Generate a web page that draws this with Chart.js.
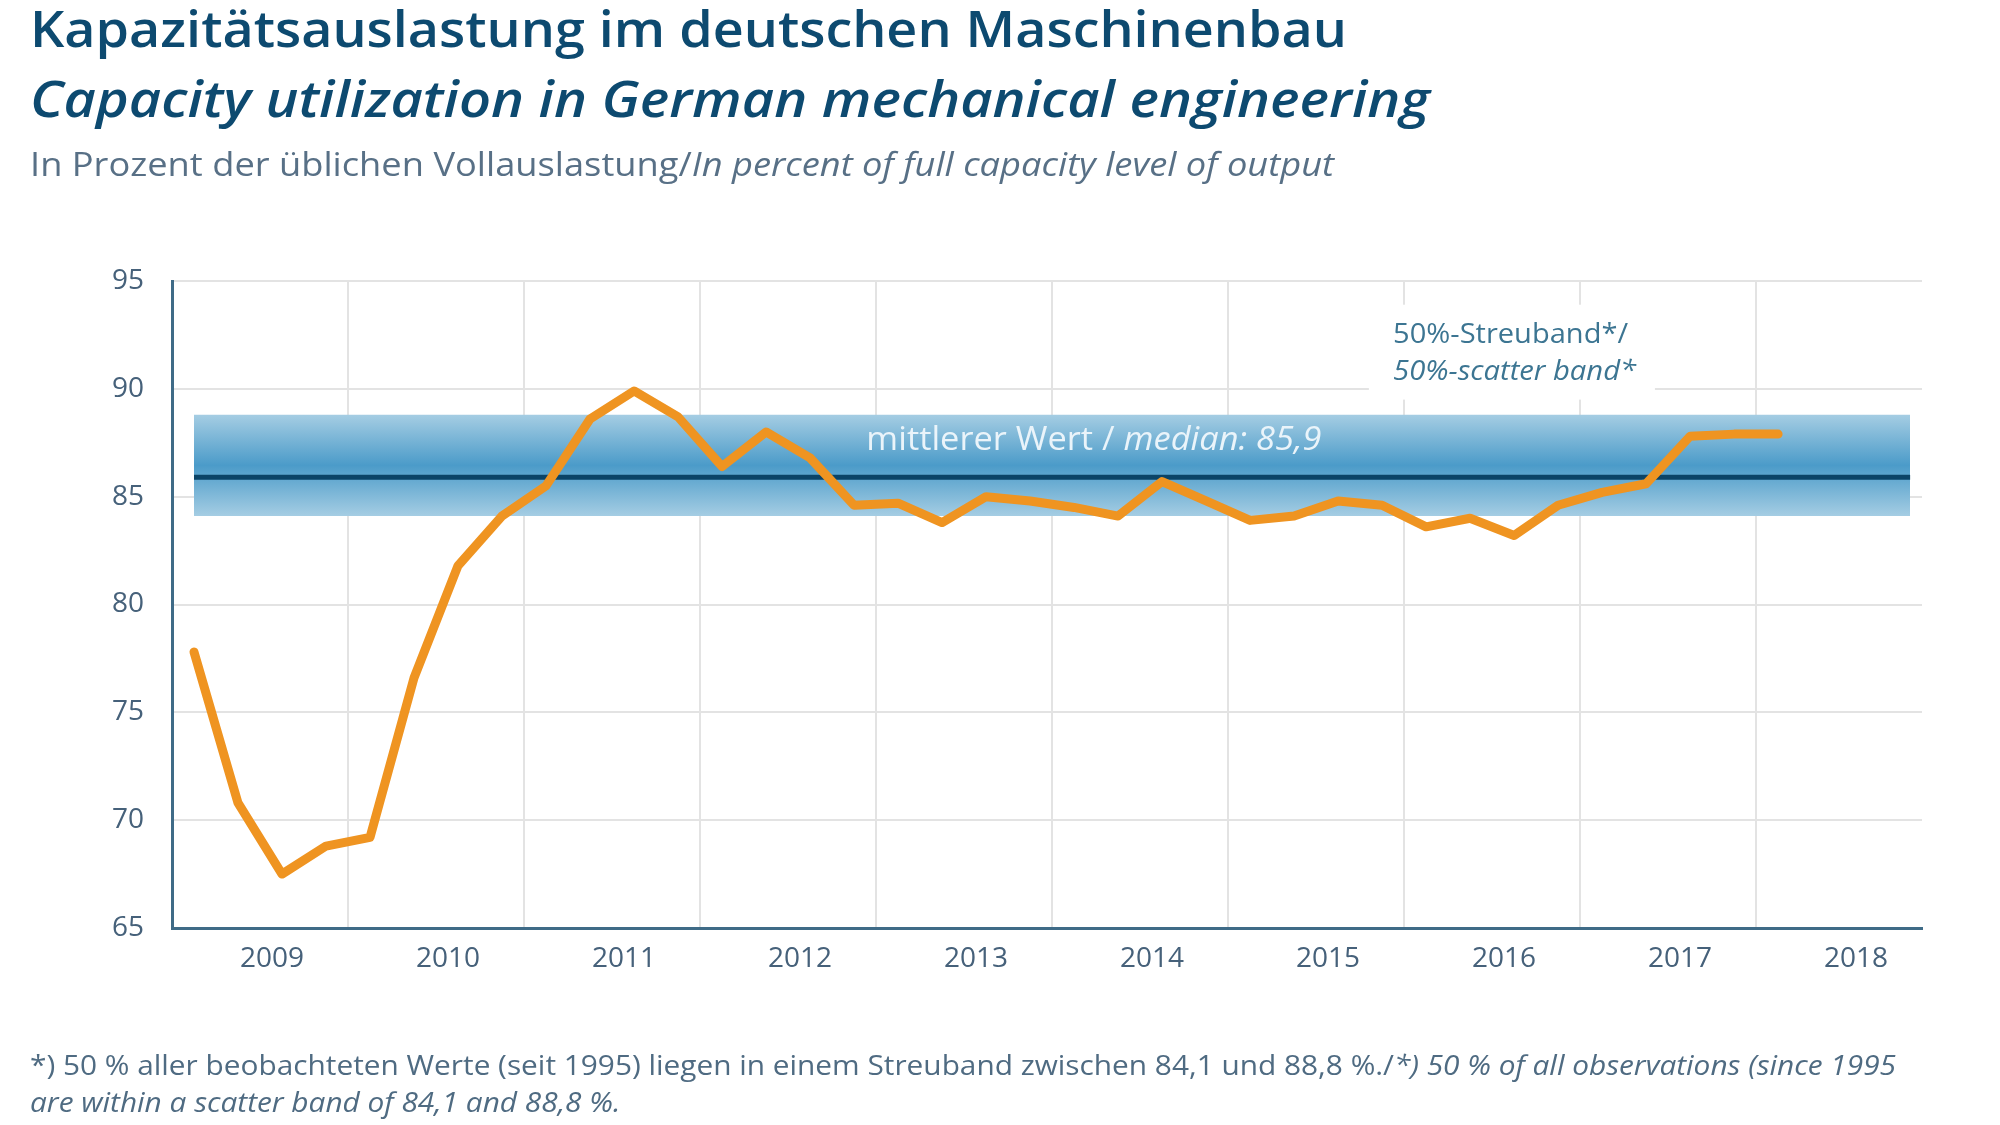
<!DOCTYPE html>
<html>
<head>
<meta charset="utf-8">
<script src="https://cdn.jsdelivr.net/npm/chart.js@4.4.1/dist/chart.umd.min.js"></script>
<style>
  body { margin: 0; background: #fff; }
  #wrap { position: relative; width: 2000px; height: 1125px; overflow: hidden; }
  #chart { position: absolute; left: 0; top: 0; }
  .t { position: absolute; left: 30px; white-space: nowrap; line-height: 1; font-family: "Open Sans", sans-serif; transform-origin: 0 0; }
  #t1 { top: 3px; font-size: 50px; font-weight: 600; color: #0d4a70; }
  #t2 { top: 73px; font-size: 50px; font-weight: 600; font-style: italic; color: #0d4a70; }
  #t3 { top: 147px; font-size: 33px; color: #587086; }
  .fn { font-size: 27px; color: #4f6b82; }
  #f1 { top: 1051px; }
  #f2 { top: 1088px; }
</style>
</head>
<body>
<div id="wrap">
  <canvas id="chart" width="2000" height="1125"></canvas>
  <div class="t" id="t1" data-w="1317">Kapazitätsauslastung im deutschen Maschinenbau</div>
  <div class="t" id="t2" data-w="1400">Capacity utilization in German mechanical engineering</div>
  <div class="t" id="t3" data-w="1304">In Prozent der üblichen Vollauslastung/<i>In percent of full capacity level of output</i></div>
  <div class="t fn" id="f1" data-w="1866">*) 50 % aller beobachteten Werte (seit 1995) liegen in einem Streuband zwischen 84,1 und 88,8 %./<i>*) 50 % of all observations (since 1995</i></div>
  <div class="t fn" id="f2" data-w="600"><i>are within a scatter band of 84,1 and 88,8 %.</i></div>
</div>
<script>
// quarterly values, 2009 Q1 - 2018 Q1
const years = ['2009','2010','2011','2012','2013','2014','2015','2016','2017','2018'];
const quarters = years.flatMap(y => ['Q1','Q2','Q3','Q4'].map(q => y + ' ' + q));
const utilization = [77.8, 70.8, 67.5, 68.8, 69.2, 76.6, 81.8, 84.1, 85.5, 88.6, 89.9, 88.7,
  86.4, 88.0, 86.8, 84.6, 84.7, 83.8, 85.0, 84.8, 84.5, 84.1, 85.7, 84.8,
  83.9, 84.1, 84.8, 84.6, 83.6, 84.0, 83.2, 84.6, 85.2, 85.6, 87.8, 87.9, 87.9];
const median = 85.9;
const bandLow = 84.1;
const bandHigh = 88.8;

// fit text runs into a given width (original font is condensed)
function drawRuns(c, runs, x, y, targetW, align) {
  let w = 0;
  runs.forEach(r => { c.font = r.font; r.w = c.measureText(r.text).width; w += r.w; });
  const sx = targetW / w;
  c.save();
  c.translate(align === 'center' ? x - targetW / 2 : x, y);
  c.scale(sx, 1);
  let cx = 0;
  runs.forEach(r => { c.font = r.font; c.fillText(r.text, cx, 0); cx += r.w; });
  c.restore();
}

const notes = {
  id: 'notes',
  beforeDatasetsDraw(chart) {
    const { ctx: c, scales: { x, y } } = chart;
    c.save();
    c.fillStyle = '#fff';
    const bx0 = x.getPixelForValue(27.2), bx1 = x.getPixelForValue(33.7);
    const by0 = y.getPixelForValue(93.9), by1 = y.getPixelForValue(89.5);
    c.fillRect(bx0, by0, bx1 - bx0, by1 - by0);
    c.fillStyle = '#3c7592';
    c.textBaseline = 'middle';
    drawRuns(c, [{ text: '50%-Streuband*/', font: '28px "Open Sans"' }],
      x.getPixelForValue(27.75), y.getPixelForValue(92.5), 235, 'left');
    drawRuns(c, [{ text: '50%-scatter band*', font: 'italic 28px "Open Sans"' }],
      x.getPixelForValue(27.75), y.getPixelForValue(90.8), 243, 'left');
    c.restore();
  },
  afterDatasetDraw(chart, args) {
    if (args.index !== 2) return;
    const { ctx: c, scales: { x, y } } = chart;
    c.save();
    c.fillStyle = '#eaf4fa';
    c.textBaseline = 'middle';
    drawRuns(c, [
      { text: 'mittlerer Wert / ', font: '32px "Open Sans"' },
      { text: 'median: 85,9', font: 'italic 32px "Open Sans"' }
    ], x.getPixelForValue(20.95), y.getPixelForValue(87.6), 455, 'center');
    c.restore();
  }
};

const pts = arr => arr.map((v, i) => ({ x: i + 0.5, y: v }));
const flat = v => quarters.map((q, i) => ({ x: i + 0.5, y: v }));

new Chart(document.getElementById('chart'), {
  type: 'line',
  data: {
    datasets: [
      { label: 'Kapazitätsauslastung', data: pts(utilization), borderColor: '#ef9421', borderWidth: 9,
        pointRadius: 0, borderCapStyle: 'round', borderJoinStyle: 'round', tension: 0, order: 0 },
      { label: 'median', data: flat(median), borderColor: '#0b4467', borderWidth: 5, pointRadius: 0, order: 1 },
      { label: 'band high', data: flat(bandHigh), borderWidth: 0, borderColor: 'rgba(0,0,0,0)', pointRadius: 0,
        fill: '+1', order: 2,
        backgroundColor: (ctx) => {
          const chart = ctx.chart;
          if (!chart.chartArea) return 'rgba(0,0,0,0)';
          const yt = chart.scales.y.getPixelForValue(bandHigh), yb = chart.scales.y.getPixelForValue(bandLow);
          const g = chart.ctx.createLinearGradient(0, yt, 0, yb);
          g.addColorStop(0, '#a5cde3');
          g.addColorStop(0.5, '#4b9bc9');
          g.addColorStop(1, '#a5cde3');
          return g;
        } },
      { label: 'band low', data: flat(bandLow), borderWidth: 0, borderColor: 'rgba(0,0,0,0)', pointRadius: 0, order: 3 }
    ]
  },
  options: {
    responsive: false,
    animation: false,
    layout: { padding: { top: 281, right: 78, left: 0, bottom: 0 } },
    plugins: { legend: { display: false }, tooltip: { enabled: false } },
    scales: {
      x: {
        type: 'linear', min: 0, max: 39.77,
        afterFit: s => { s.height = 197; },
        afterBuildTicks: s => { s.ticks = Array.from({ length: 20 }, (_, i) => ({ value: i * 2 })); },
        grid: { drawTicks: false, lineWidth: 2,
          color: c => (c.tick && c.tick.value % 4 === 0 && c.tick.value > 0) ? '#e3e3e3' : 'rgba(0,0,0,0)' },
        border: { color: '#3f6b87', width: 3 },
        ticks: { autoSkip: false, maxRotation: 0, padding: 14, labelOffset: 12,
          color: '#46617a', font: { family: 'Open Sans', size: 28 },
          callback: v => v % 4 === 2 ? years[(v - 2) / 4] : '' }
      },
      y: {
        min: 65, max: 95,
        afterFit: s => { s.width = 172; },
        grid: { drawTicks: false, lineWidth: 2, color: '#e3e3e3' },
        border: { color: '#3f6b87', width: 3 },
        ticks: { stepSize: 5, padding: 28, color: '#46617a', font: { family: 'Open Sans', size: 28 } }
      }
    }
  },
  plugins: [notes]
});

document.querySelectorAll('.t').forEach(el => {
  const w = el.getBoundingClientRect().width;
  const target = el.id === 'f2' ? w * (1866 / document.getElementById('f1').scrollWidth) : +el.dataset.w;
  el.style.transform = 'scaleX(' + (target / w) + ')';
});
</script>
</body>
</html>
